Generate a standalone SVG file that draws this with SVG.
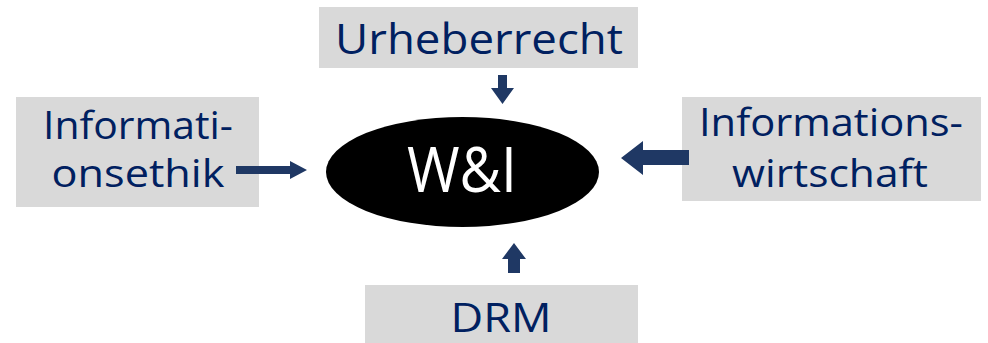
<svg xmlns="http://www.w3.org/2000/svg" width="988" height="343" viewBox="0 0 988 343">
<style>
.box{fill:#d9d9d9}
.lbl{font-family:"Open Sans","Noto Sans","Liberation Sans",sans-serif;fill:#002060;text-anchor:middle}
.arr{fill:#1f3864}
</style>
<rect width="988" height="343" fill="#ffffff"/>
<g id="urheberrecht">
<rect class="box" x="319" y="7" width="319" height="61"/>
<text class="lbl" x="479" y="54" font-size="42" textLength="288" lengthAdjust="spacingAndGlyphs">Urheberrecht</text>
</g>
<g id="informationsethik">
<rect class="box" x="16" y="97" width="243" height="110"/>
<text class="lbl" x="138" y="139" font-size="38" textLength="190" lengthAdjust="spacingAndGlyphs">Informati-</text>
<text class="lbl" x="138" y="187" font-size="38" textLength="173" lengthAdjust="spacingAndGlyphs">onsethik</text>
</g>
<g id="informationswirtschaft">
<rect class="box" x="682" y="97" width="299" height="104"/>
<text class="lbl" x="831" y="136" font-size="38" textLength="264" lengthAdjust="spacingAndGlyphs">Informations-</text>
<text class="lbl" x="830" y="187" font-size="38" textLength="196" lengthAdjust="spacingAndGlyphs">wirtschaft</text>
</g>
<g id="drm">
<rect class="box" x="365" y="285" width="273" height="58"/>
<text class="lbl" x="501" y="332" font-size="40" textLength="101" lengthAdjust="spacingAndGlyphs">DRM</text>
</g>
<g id="wi">
<ellipse cx="462.5" cy="172" rx="136.5" ry="55" fill="#000000"/>
<text x="462" y="192" font-family="'Open Sans','Noto Sans','Liberation Sans',sans-serif" font-size="62" fill="#ffffff" text-anchor="middle" textLength="110" lengthAdjust="spacingAndGlyphs">W&amp;I</text>
</g>
<g id="connectors">
<polygon class="arr" points="498,75 507,75 507,88 514,88 502.5,104 491,88 498,88"/>
<polygon class="arr" points="236,166 290,166 290,161 307,170 290,179 290,174 236,174"/>
<polygon class="arr" points="689,150 643,150 643,141 621,158 643,175 643,165 689,165"/>
<polygon class="arr" points="508,273 520,273 520,259 526,259 514,243 502,259 508,259"/>
</g>
</svg>
